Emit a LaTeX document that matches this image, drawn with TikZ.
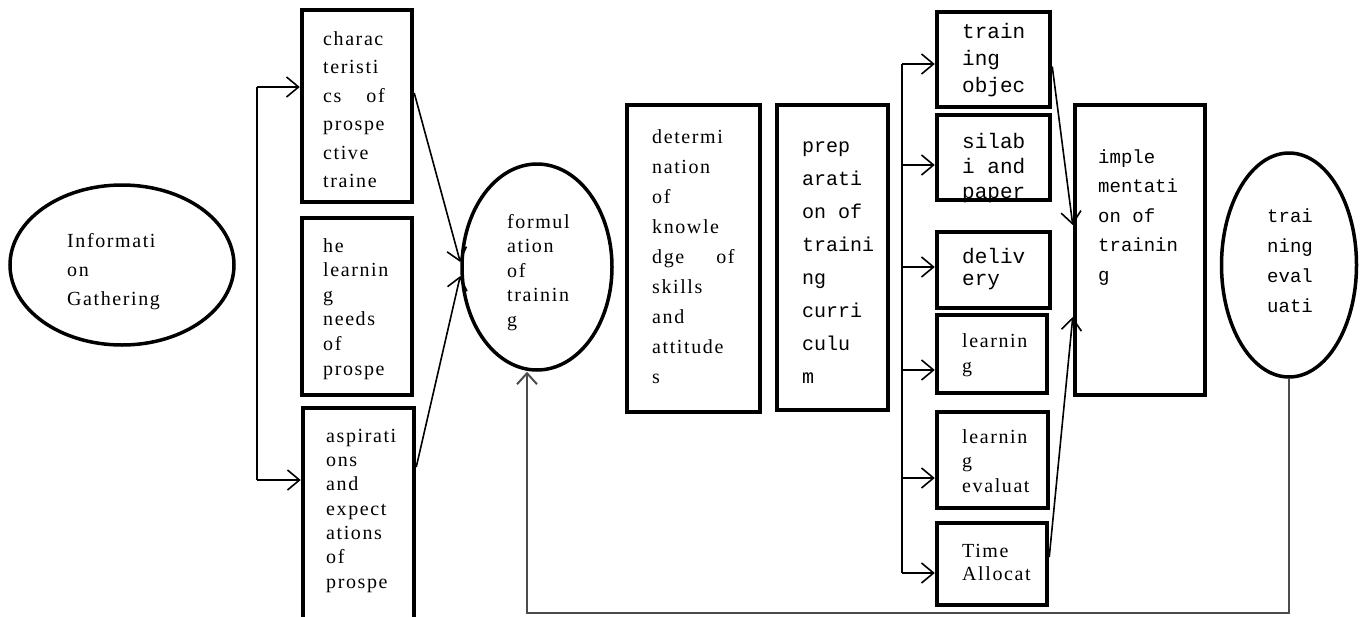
\documentclass[tikz,border=0pt]{standalone}
\usepackage{fontspec}
\setmainfont[LetterSpace=8]{Liberation Serif}
\newfontfamily\monofam{Liberation Mono}
\usetikzlibrary{shapes.geometric,arrows.meta}
\newcommand\fsz[2]{\fontsize{#1}{#2}\selectfont}
\begin{document}
\begin{tikzpicture}[x=1pt,y=-1pt,
  box/.style={draw,line width=4.5pt,rectangle,inner sep=0pt},
  ell/.style={draw,line width=3.5pt,ellipse,inner sep=0pt},
  tx/.style={anchor=base west,align=left,inner sep=0pt},
  conn/.style={line width=1.6pt},
  arr/.style={conn,-{Straight Barb[length=12pt,width=20pt,line width=1.6pt]}},
  fb/.style={line width=2pt,draw=black!70,-{Straight Barb[length=11pt,width=20pt,line width=2pt]}}]
\useasboundingbox (0,0) rectangle (1362,616);
% shapes
\node[ell,minimum width=224pt,minimum height=160pt] (info) at (122,265) {};
\node[box,minimum width=110pt,minimum height=192pt] (ch) at (357,106) {};
\node[box,minimum width=110pt,minimum height=177pt] (ln) at (357,306.5) {};
\node[box,minimum width=111pt,minimum height=232pt] (as) at (358.5,524) {};
\node[ell,minimum width=150pt,minimum height=206pt] (fm) at (537,267) {};
\node[box,minimum width=133pt,minimum height=307pt] (dt) at (693.5,258.5) {};
\node[box,minimum width=111pt,minimum height=305pt] (pr) at (832.5,257.5) {};
\node[box,minimum width=113pt,minimum height=95pt] (r1) at (993.5,59.5) {};
\node[box,minimum width=113pt,minimum height=85pt] (r2) at (993.5,157.5) {};
\node[box,minimum width=113pt,minimum height=76pt] (r3) at (993.5,270) {};
\node[box,minimum width=110pt,minimum height=78pt] (r4) at (992,354) {};
\node[box,minimum width=111pt,minimum height=96pt] (r5) at (992.5,460) {};
\node[box,minimum width=110pt,minimum height=82pt] (r6) at (992,564) {};
\node[box,minimum width=130pt,minimum height=290pt] (im) at (1140,250) {};
\node[ell,minimum width=135pt,minimum height=224pt] (te) at (1289,265) {};
% texts (anchored at the baseline of the last line)
\node[tx,font=\fsz{20}{29}] (info-t) at (67,305) {Informati\\on\\Gathering};
\node[tx,font=\fsz{20}{28.5}] (ch-t) at (323,187.5) {charac\\teristi\\cs\hspace{25pt}of\\prospe\\ctive\\traine};
\node[tx,font=\fsz{20}{24.6}] (ln-t) at (323,375) {he\\learnin\\g\\needs\\of\\prospe};
\node[tx,font=\fsz{20}{24.3}] (as-t) at (326,588) {aspirati\\ons\\and\\expect\\ations\\of\\prospe};
\node[tx,font=\fsz{20}{24.5}] (fm-t) at (507,326) {formul\\ation\\of\\trainin\\g};
\node[tx,font=\fsz{20}{30}] (dt-t) at (652,383) {determi\\nation\\of\\knowle\\dge\hspace{32pt}of\\skills\\and\\attitude\\s};
\node[tx,font=\monofam\fsz{20}{33}] (pr-t) at (802,383) {prep\\arati\\on of\\traini\\ng\\curri\\culu\\m};
\node[tx,font=\monofam\fsz{21}{27}] (r1-t) at (962,92) {train\\ing\\objec};
\node[tx,font=\monofam\fsz{21}{25}] (r2-t) at (962,198) {silab\\i and\\paper};
\node[tx,font=\monofam\fsz{21}{22}] (r3-t) at (962,285) {deliv\\ery};
\node[tx,font=\fsz{20}{25}] (r4-t) at (962,372) {learnin\\g};
\node[tx,font=\fsz{20}{24.5}] (r5-t) at (962,492) {learnin\\g\\evaluat};
\node[tx,font=\fsz{20}{23}] (r6-t) at (962,580) {Time\\Allocat};
\node[tx,font=\monofam\fsz{19}{29.5}] (im-t) at (1098,281) {imple\\mentati\\on of\\trainin\\g};
\node[tx,font=\monofam\fsz{19}{30}] (te-t) at (1267,312) {trai\\ning\\eval\\uati};
% left bracket
\coordinate (jt) at (257,87);
\coordinate (jb) at (257,480);
\draw[conn] (jt) -- (jb);
\draw[arr] (jt) -- (jt -| ch.west);
\draw[arr] (jb) -- (jb -| as.west);
\draw[arr] ([yshift=13pt]ch.east) -- ([yshift=5pt]fm.west);
\draw[arr] ([yshift=57pt]as.east) -- ([yshift=-9pt]fm.west);
% right bracket
\coordinate (vt) at (902,64);
\coordinate (v2) at (902,165);
\coordinate (v3) at (902,267);
\coordinate (v4) at (902,370);
\coordinate (v5) at (902,478);
\coordinate (vb) at (902,573);
\draw[conn] (vt) -- (vb);
\draw[arr] (vt) -- (vt -| r1.west);
\draw[arr] (v2) -- (v2 -| r2.west);
\draw[arr] (v3) -- (v3 -| r3.west);
\draw[arr] (v4) -- (v4 -| r4.west);
\draw[arr] (v5) -- (v5 -| r5.west);
\draw[arr] (vb) -- (vb -| r6.west);
\draw[arr] ([yshift=-7pt]r1.east) -- ([yshift=25pt]im.west);
\draw[arr] ([yshift=7pt]r6.east) -- ([yshift=-67pt]im.west);
% feedback
\coordinate (fbl) at (527,613);
\draw[fb] (te.south) |- (fbl) -- (fbl |- fm.south);
\end{tikzpicture}
\end{document}
